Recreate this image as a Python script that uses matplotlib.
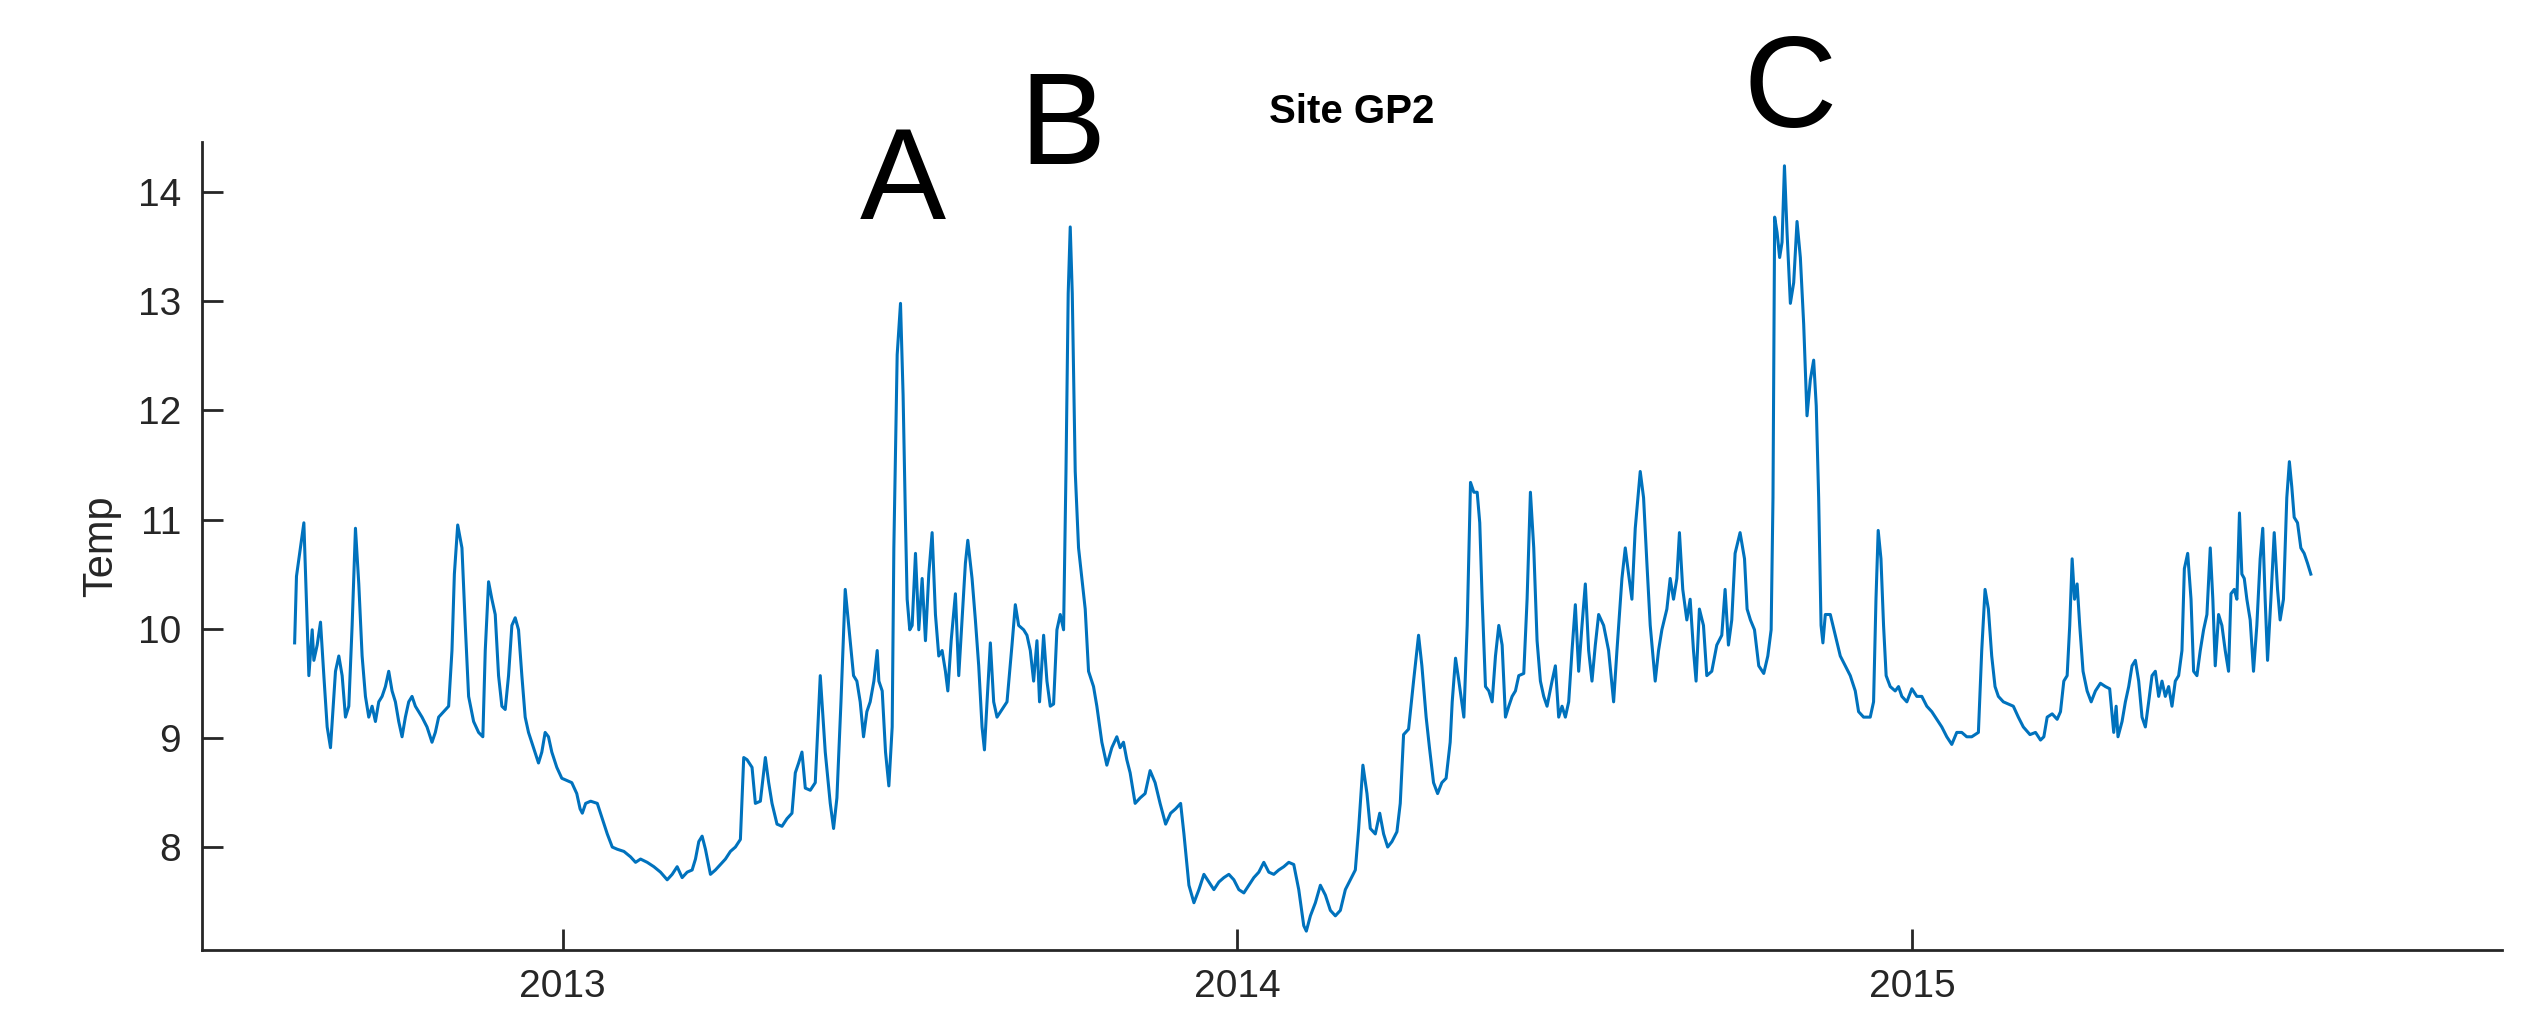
import matplotlib
matplotlib.use('Agg')
import matplotlib.pyplot as plt
import pandas as pd

plt.rcParams['font.family'] = ['Liberation Sans', 'DejaVu Sans']

# Site GP2 temperature
# day = days since 1 Aug 2012
start = pd.Timestamp('2012-08-01')
day = [
    8.1, 9.1, 13.1, 15.8, 17.6, 18.5, 20.3, 22.1, 23.9, 25.7,
    27.5, 30.2, 32.0, 33.8, 35.6, 37.4, 39.2, 41.0, 42.8, 44.6,
    46.4, 48.2, 50.0, 51.8, 53.6, 55.4, 57.2, 59.0, 60.8, 62.6,
    64.4, 66.2, 68.0, 69.8, 71.6, 73.4, 75.2, 77.0, 79.7, 82.4,
    84.2, 86.0, 88.7, 91.4, 93.2, 94.5, 96.3, 98.6, 100.4, 102.2,
    104.9, 107.6, 109.9, 111.2, 113.0, 114.8, 116.6, 118.4, 120.2, 122.0,
    123.8, 125.6, 127.4, 129.2, 131.0, 132.8, 134.6, 137.3, 140.0, 141.8,
    143.6, 145.4, 147.2, 149.9, 152.6, 155.3, 158.0, 160.7, 162.5,
    163.7, 165.5, 168.2, 171.8, 174.5, 177.2, 179.9, 182.6, 186.2, 189.8,
    192.5, 195.2, 198.8, 202.4, 206.0, 209.6, 212.3, 215.0, 217.7, 220.4,
    223.1, 224.9, 226.7, 228.5, 230.3, 233.0, 235.7, 238.4, 241.1, 243.8,
    246.5, 249.2, 251.0, 252.8, 255.5, 257.3, 260.0, 262.7, 264.5, 266.3,
    269.0, 271.7, 274.4, 277.1, 278.9, 280.7, 282.5, 284.3, 287.0, 289.7,
    292.4, 295.1, 297.8, 299.6, 301.4, 303.6, 305.9, 308.6, 310.4, 312.2,
    314.0, 315.8, 317.6, 319.4,
    321.4, 323.2, 324.1, 325.9, 327.7, 329.5, 331.3, 332.2, 334.0, 335.8,
    337.2, 338.5, 339.4, 340.8, 342.1, 343.9, 345.7, 347.5, 349.3, 351.1,
    352.9, 354.7, 356.5, 358.3, 360.1, 361.4, 363.2, 365.5, 367.3, 369.1,
    370.9, 372.2, 374.5, 376.3, 378.1, 379.9, 381.2, 382.6, 384.4, 386.2,
    388.0, 390.7, 393.4, 396.1, 397.9, 399.7, 402.4, 404.2, 406.0, 407.8,
    409.6, 411.0, 413.2, 415.0, 416.8, 418.6, 420.4, 422.2, 424.0, 425.3,
    426.5, 427.6, 428.7, 430.3, 432.1, 433.9, 435.7, 437.5, 440.2, 442.0,
    444.7, 447.4, 450.1, 452.8, 454.6, 456.4, 458.2, 460.0, 462.7, 465.4,
    468.1, 470.8, 473.5, 476.2,
    479.2, 481.9, 484.6, 487.3, 489.1, 491.8, 494.5, 497.2, 499.9, 502.6,
    505.3, 508.0, 510.7, 513.4, 516.1, 518.8, 521.5, 524.2, 526.9, 529.6,
    532.3, 535.0, 537.7, 540.4, 543.1, 545.8, 548.5, 551.2, 553.9, 555.3,
    557.5, 560.2, 562.9, 565.6, 568.3, 571.0, 573.7, 576.4, 579.1, 581.8,
    583.6, 585.9, 588.1, 589.9, 592.6, 595.0, 597.1, 599.3, 601.6, 604.3,
    606.1, 607.9, 610.6, 613.3, 616.0, 617.8, 620.1, 621.9, 624.1, 626.3,
    628.6, 630.9, 633.1,
    634.2, 636.0, 637.8, 640.5, 642.3, 644.1, 645.9, 647.7, 649.1, 650.4,
    652.2, 654.0, 655.8, 657.6, 659.4, 661.2, 663.0, 664.8, 666.6, 668.4,
    670.2, 672.9, 674.7, 676.5, 678.3, 680.1, 681.9, 683.7, 685.5, 688.2,
    690.0, 691.8, 693.6, 695.4, 697.2, 699.0, 700.8, 702.6, 704.4, 706.2,
    708.0, 709.8, 711.6, 713.4, 716.1, 718.8, 721.5, 723.3, 726.0, 727.8,
    729.6, 731.4, 733.2, 735.9, 737.7, 739.5, 741.3, 744.0, 745.8, 747.6,
    750.3, 752.1, 753.9, 755.7, 757.1, 758.9, 761.1, 762.9, 764.7, 766.1,
    767.9, 770.1, 771.9, 774.6, 777.3, 780.0, 781.8, 783.6, 785.4, 787.2,
    789.9,
    792.3, 793.7, 795.5, 797.7, 800.0, 802.7, 804.9, 806.7, 807.7, 808.6,
    809.9, 811.3, 812.6, 813.9, 815.3, 817.1, 818.9, 820.7, 822.5, 824.3,
    826.1, 827.9, 829.7, 831.1, 832.4, 833.7, 834.7, 836.0, 838.7, 841.4,
    844.1, 846.8, 849.5, 852.2, 854.0, 856.7, 860.3, 862.1, 863.4, 864.6,
    866.1, 867.5, 868.9, 871.1, 873.8, 875.6, 877.4, 880.1, 882.8, 885.5,
    888.2, 890.9, 893.6, 896.3, 899.0, 901.7, 904.4, 907.1, 909.8, 912.5,
    915.2, 918.8, 920.6, 922.4, 924.2, 926.0, 927.8, 929.6, 932.3, 935.0,
    937.7, 940.4, 943.1, 946.7,
    949.7, 952.4, 954.2, 956.0, 958.7, 961.4, 963.2, 965.0, 966.8, 968.2,
    969.5, 970.8, 972.2, 973.6, 975.4, 977.6, 979.8, 982.1, 984.8, 987.5,
    989.8, 992.0, 993.3, 994.3, 996.5, 998.3, 1000.1, 1001.9, 1003.7, 1005.5,
    1007.3, 1009.1, 1010.9, 1012.7, 1014.5, 1016.3, 1018.1, 1019.9, 1021.7, 1023.5,
    1025.3, 1027.1, 1028.9, 1030.2, 1032.0, 1033.8, 1035.2, 1037.0, 1038.8, 1040.6,
    1042.4, 1044.2, 1045.6, 1046.9, 1048.7, 1050.5, 1052.3, 1054.1, 1055.4, 1057.2,
    1058.6, 1060.0, 1061.3, 1062.6, 1064.0, 1065.8, 1067.6, 1069.4, 1071.2, 1072.6,
    1073.9, 1075.2, 1077.0, 1078.8, 1080.6, 1082.0, 1083.8, 1085.6, 1087.0, 1088.3,
    1089.6, 1091.4, 1093.2, 1095.0, 1096.8, 1098.6,
]
temp = [
    9.87, 10.48, 10.97, 9.57, 9.99, 9.71, 9.85, 10.06, 9.57, 9.10,
    8.91, 9.61, 9.75, 9.57, 9.19, 9.29, 10.03, 10.92, 10.41, 9.75,
    9.38, 9.19, 9.29, 9.15, 9.33, 9.38, 9.47, 9.61, 9.43, 9.33,
    9.15, 9.01, 9.19, 9.33, 9.38, 9.29, 9.24, 9.19, 9.10, 8.96,
    9.05, 9.19, 9.24, 9.29, 9.80, 10.50, 10.95, 10.74, 10.03, 9.38,
    9.15, 9.05, 9.01, 9.80, 10.43, 10.27, 10.13, 9.57, 9.29, 9.26,
    9.57, 10.03, 10.10, 9.99, 9.57, 9.19, 9.05, 8.91, 8.77, 8.87,
    9.05, 9.01, 8.87, 8.73, 8.63, 8.61, 8.59, 8.49, 8.35,
    8.31, 8.40, 8.42, 8.40, 8.26, 8.12, 8.00, 7.98, 7.96, 7.91,
    7.86, 7.89, 7.86, 7.82, 7.77, 7.70, 7.75, 7.82, 7.72, 7.77,
    7.79, 7.89, 8.05, 8.10, 7.98, 7.75, 7.79, 7.84, 7.89, 7.96,
    8.00, 8.07, 8.82, 8.80, 8.73, 8.40, 8.42, 8.82, 8.59, 8.40,
    8.21, 8.19, 8.26, 8.31, 8.68, 8.77, 8.87, 8.54, 8.52, 8.59,
    9.57, 8.87, 8.40, 8.17, 8.45, 9.33, 10.36, 9.89, 9.57, 9.52,
    9.33, 9.01, 9.24, 9.33,
    9.52, 9.80, 9.52, 9.43, 8.87, 8.56, 9.10, 10.74, 12.51, 12.98,
    12.14, 10.97, 10.27, 9.99, 10.03, 10.69, 9.99, 10.46, 9.89, 10.50,
    10.88, 10.13, 9.75, 9.80, 9.61, 9.43, 9.89, 10.32, 9.57, 10.08,
    10.60, 10.81, 10.46, 10.08, 9.66, 9.10, 8.89, 9.33, 9.87, 9.33,
    9.19, 9.26, 9.33, 9.85, 10.22, 10.03, 9.99, 9.94, 9.80, 9.52,
    9.89, 9.33, 9.94, 9.52, 9.29, 9.31, 9.99, 10.13, 9.99, 11.44,
    13.07, 13.68, 13.07, 11.44, 10.74, 10.46, 10.18, 9.61, 9.47, 9.29,
    8.96, 8.75, 8.91, 9.01, 8.91, 8.96, 8.80, 8.68, 8.40, 8.45,
    8.49, 8.70, 8.59, 8.40,
    8.21, 8.31, 8.35, 8.40, 8.12, 7.65, 7.49, 7.61, 7.75, 7.68,
    7.61, 7.68, 7.72, 7.75, 7.70, 7.61, 7.58, 7.65, 7.72, 7.77,
    7.86, 7.77, 7.75, 7.79, 7.82, 7.86, 7.84, 7.61, 7.28, 7.23,
    7.37, 7.49, 7.65, 7.56, 7.42, 7.37, 7.42, 7.61, 7.70, 7.79,
    8.17, 8.75, 8.49, 8.17, 8.12, 8.31, 8.12, 8.00, 8.05, 8.14,
    8.40, 9.03, 9.08, 9.52, 9.94, 9.66, 9.19, 8.91, 8.59, 8.49,
    8.59, 8.63, 8.96,
    9.33, 9.73, 9.52, 9.19, 10.03, 11.34, 11.25, 11.25, 10.97, 10.27,
    9.47, 9.43, 9.33, 9.75, 10.03, 9.85, 9.19, 9.29, 9.38, 9.43,
    9.57, 9.59, 10.27, 11.25, 10.74, 9.89, 9.52, 9.38, 9.29, 9.52,
    9.66, 9.19, 9.29, 9.19, 9.33, 9.80, 10.22, 9.61, 10.03, 10.41,
    9.80, 9.52, 9.85, 10.13, 10.03, 9.80, 9.33, 9.80, 10.46, 10.74,
    10.50, 10.27, 10.92, 11.44, 11.20, 10.60, 10.03, 9.52, 9.80, 9.99,
    10.18, 10.46, 10.27, 10.46, 10.88, 10.36, 10.08, 10.27, 9.80, 9.52,
    10.18, 10.03, 9.57, 9.61, 9.85, 9.94, 10.36, 9.85, 10.08, 10.69,
    10.88,
    10.64, 10.18, 10.08, 9.99, 9.66, 9.59, 9.75, 9.99, 11.20, 13.77,
    13.63, 13.40, 13.54, 14.24, 13.63, 12.98, 13.17, 13.73, 13.40, 12.79,
    11.95, 12.28, 12.46, 12.04, 11.20, 10.03, 9.87, 10.13, 10.13, 9.94,
    9.75, 9.66, 9.57, 9.43, 9.24, 9.19, 9.19, 9.33, 10.27, 10.90,
    10.64, 10.03, 9.57, 9.47, 9.43, 9.47, 9.38, 9.33, 9.45, 9.38,
    9.38, 9.29, 9.24, 9.17, 9.10, 9.01, 8.94, 9.05, 9.05, 9.01,
    9.01, 9.05, 9.80, 10.36, 10.18, 9.75, 9.47, 9.38, 9.33, 9.31,
    9.29, 9.19, 9.10, 9.03,
    9.05, 8.98, 9.01, 9.19, 9.22, 9.17, 9.24, 9.52, 9.57, 10.03,
    10.64, 10.27, 10.41, 10.03, 9.61, 9.43, 9.33, 9.43, 9.50, 9.47,
    9.45, 9.05, 9.29, 9.01, 9.15, 9.33, 9.47, 9.66, 9.71, 9.52,
    9.19, 9.10, 9.33, 9.57, 9.61, 9.38, 9.52, 9.38, 9.47, 9.29,
    9.52, 9.57, 9.80, 10.55, 10.69, 10.27, 9.61, 9.57, 9.80, 9.99,
    10.13, 10.74, 10.27, 9.66, 10.13, 10.03, 9.80, 9.61, 10.32, 10.36,
    10.27, 11.06, 10.50, 10.46, 10.27, 10.08, 9.61, 10.03, 10.64, 10.92,
    10.27, 9.71, 10.27, 10.88, 10.36, 10.08, 10.27, 11.20, 11.53, 11.30,
    11.02, 10.97, 10.74, 10.69, 10.60, 10.50,
]

year_ticks = ['2013-01-01', '2014-01-01', '2015-01-01']
year_labels = ['2013', '2014', '2015']
y_ticks = [8, 9, 10, 11, 12, 13, 14]
event_labels = ['A', 'B', 'C']

W, H = 2534, 1010
fig = plt.figure(figsize=(W / 100, H / 100), dpi=100)
ax = fig.add_axes([202 / W, 1 - 950 / H, 2300 / W, 808 / H])

dates = start + pd.to_timedelta(day, unit='D')
ax.plot(dates.to_pydatetime(), temp, color='#0072BD', lw=2.2)

ax.set_xlim(pd.Timestamp('2012-06-20'), pd.Timestamp('2015-11-16'))
ax.set_ylim(7.057, 14.458)
ax.set_xticks(pd.to_datetime(year_ticks).to_pydatetime())
ax.set_xticklabels(year_labels)
ax.set_yticks(y_ticks)

# matlab look: box off, ticks inside
ax.spines['top'].set_visible(False)
ax.spines['right'].set_visible(False)
for s in ['left', 'bottom']:
    ax.spines[s].set_color('#262626')
    ax.spines[s].set_linewidth(2)
ax.tick_params(direction='in', length=15, width=2, colors='#262626', labelsize=28)
ax.tick_params(axis='x', pad=14)
ax.tick_params(axis='y', pad=15)

ax.set_title('Site GP2', fontsize=29, fontweight='bold', pad=14)
ax.set_ylabel('Temp', fontsize=30, color='#262626')
ax.yaxis.set_label_coords(-0.0352, 0.5)

# big event letters, placed in figure pixels (center x, baseline y)
event_x = [903, 1062, 1790]
event_y = [219, 164, 127]
for lab, px, py in zip(event_labels, event_x, event_y):
    fig.text(px / W, 1 - py / H, lab, fontsize=93, ha='center', va='baseline', color='black')

fig.savefig('out.png', dpi=100)
